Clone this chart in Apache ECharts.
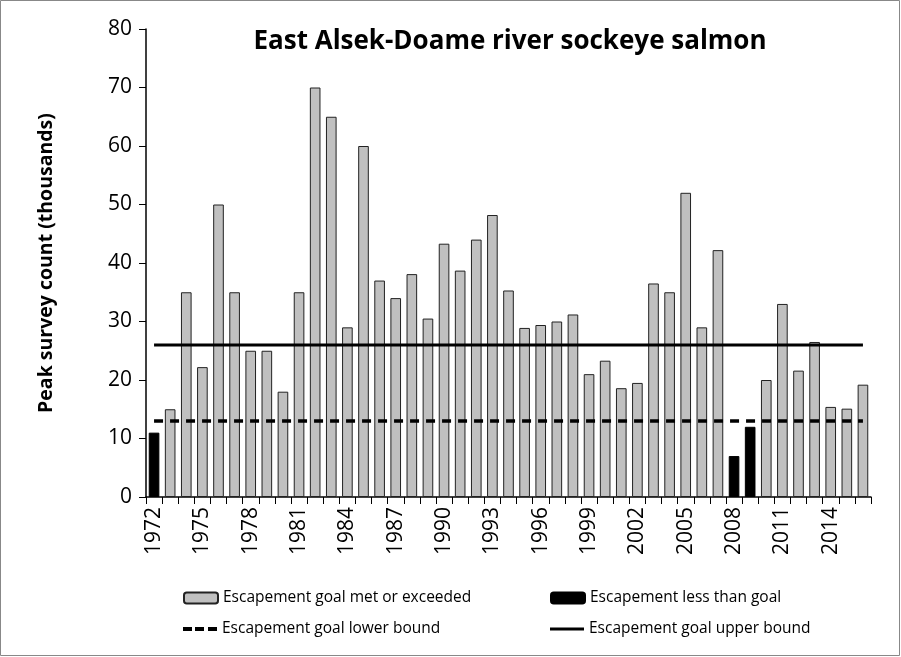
<!DOCTYPE html>
<html><head><meta charset="utf-8">
<script src="https://cdn.jsdelivr.net/npm/echarts@6/dist/echarts.min.js"></script>
<style>html,body{margin:0;padding:0;background:#fff}#c{width:901px;height:657px}</style>
</head><body><div id="c"></div>
<script>
const years = [];
for (let y = 1972; y <= 2016; y++) years.push(String(y));
const counts = [11,15,35,22.2,50,35,25,25,18,35,70,65,29,60,37,34,38.1,30.5,43.3,38.7,44,48.2,35.3,28.9,29.4,30,31.2,21,23.3,18.6,19.5,36.5,35,52,29,42.2,7,12,20,33,21.6,26.5,15.4,15.1,19.2];
const lowerBound = 13;
const upperBound = 26;
const yTicks = [0,10,20,30,40,50,60,70,80];

const met = counts.map(v => v >= lowerBound ? v : '-');
const less = counts.map(v => v < lowerBound ? v : '-');
const lowerLine = years.map(() => lowerBound);
const upperLine = years.map(() => upperBound);

const FONT = 'Open Sans';
const chart = echarts.init(document.getElementById('c'), null, {renderer:'canvas'});
const legendText = {fontFamily: FONT, fontSize: 15.5, color: '#000'};
const dashIcon = 'path://M0,0h9v4h-9z M12,0h9v4h-9z M25,0h9v4h-9z';
chart.setOption({
  animation: false,
  backgroundColor: '#fff',
  textStyle: {fontFamily: FONT},
  title: {text: 'East Alsek-Doame river sockeye salmon', left: 505, top: 24, textAlign: 'center',
    textStyle: {fontFamily: FONT, fontWeight: 'bold', fontSize: 26, color: '#000'}},
  grid: {left: 146, right: 30, top: 29, bottom: 160, containLabel: false},
  graphic: [{type: 'rect', shape: {x: 0.5, y: 0.5, width: 899, height: 655}, style: {fill: 'none', stroke: '#888', lineWidth: 1}}],
  legend: [
    {data: [{name: 'Escapement goal met or exceeded'}], left: 178, top: 585, itemWidth: 34, itemHeight: 11, itemGap: 4, textStyle: legendText},
    {data: [{name: 'Escapement less than goal'}], left: 545, top: 585, itemWidth: 34, itemHeight: 11, textStyle: legendText},
    {data: [{name: 'Escapement goal lower bound', icon: dashIcon}], left: 178, top: 616, itemWidth: 34, itemHeight: 4, textStyle: legendText},
    {data: [{name: 'Escapement goal upper bound', icon: 'rect'}], left: 545, top: 616, itemWidth: 34, itemHeight: 3, textStyle: legendText}
  ],
  xAxis: {type: 'category', data: years, boundaryGap: true,
    axisLine: {lineStyle: {color: '#000', width: 1.5}},
    axisTick: {show: true, interval: 0, length: 7, alignWithLabel: false, lineStyle: {color: '#000'}},
    axisLabel: {interval: 2, rotate: 90, fontFamily: FONT, fontSize: 21, color: '#000', margin: 10}},
  yAxis: {type: 'value', min: 0, max: 80, interval: 10,
    name: 'Peak survey count (thousands)', nameLocation: 'middle', nameGap: 90,
    nameTextStyle: {fontFamily: FONT, fontWeight: 'bold', fontSize: 19.5, color: '#000'},
    axisLine: {show: true, lineStyle: {color: '#000', width: 1.5}},
    axisTick: {show: true, length: 7, lineStyle: {color: '#000'}},
    splitLine: {show: false},
    axisLabel: {fontFamily: FONT, fontSize: 21, color: '#000', margin: 14,
      formatter: v => yTicks.includes(v) ? String(v) : ''}},
  series: [
    {name: 'Escapement goal met or exceeded', type: 'bar', stack: 'a', data: met, barCategoryGap: '34%',
      itemStyle: {color: '#c0c0c0', borderColor: '#222', borderWidth: 1}},
    {name: 'Escapement less than goal', type: 'bar', stack: 'a', data: less,
      itemStyle: {color: '#000', borderColor: '#000', borderWidth: 1}},
    {name: 'Escapement goal lower bound', type: 'line', data: lowerLine, symbol: 'none', z: 5,
      lineStyle: {color: '#000', width: 3.5, type: [9, 7]}, itemStyle: {color: '#000'}},
    {name: 'Escapement goal upper bound', type: 'line', data: upperLine, symbol: 'none', z: 5,
      lineStyle: {color: '#000', width: 3}, itemStyle: {color: '#000'}}
  ]
});
</script></body></html>
